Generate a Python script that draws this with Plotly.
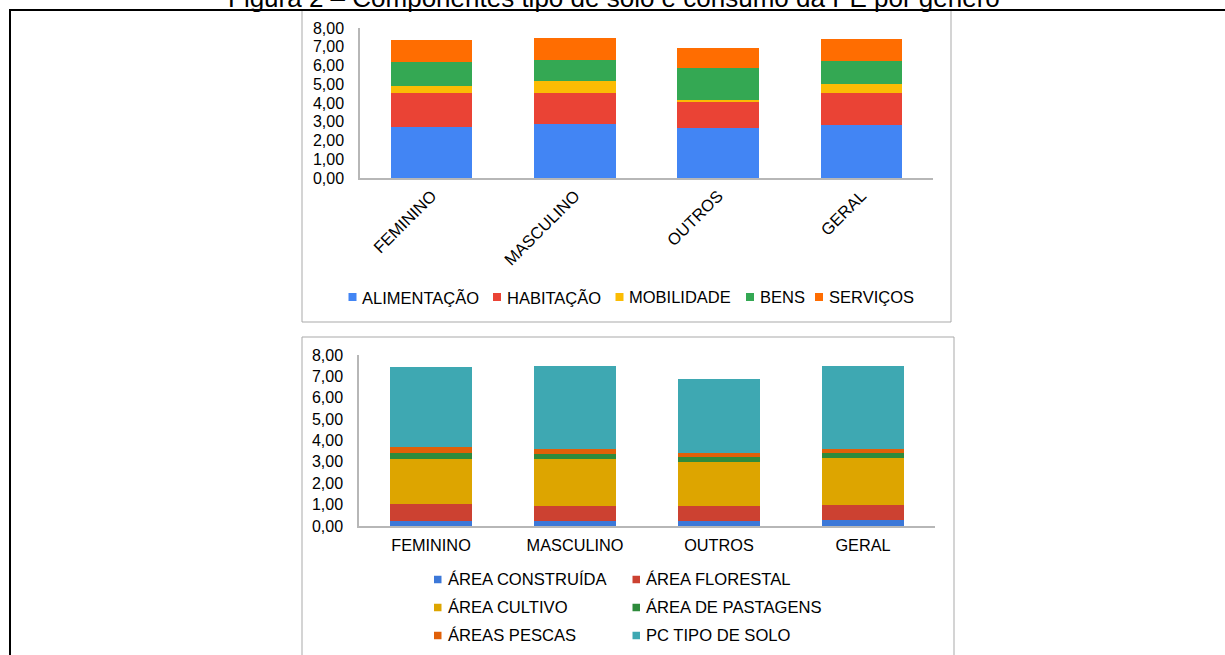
import plotly.graph_objects as go

# ---------------- data ----------------
categorias = ["FEMININO", "MASCULINO", "OUTROS", "GERAL"]

# top chart: components of consumption
alimentacao = [2.74, 2.86, 2.68, 2.81]
habitacao = [1.78, 1.69, 1.39, 1.71]
mobilidade = [0.40, 0.61, 0.11, 0.51]
bens = [1.27, 1.15, 1.70, 1.19]
servicos = [1.17, 1.17, 1.07, 1.21]

# bottom chart: land-type components
area_construida = [0.25, 0.25, 0.22, 0.27]
area_florestal = [0.78, 0.70, 0.70, 0.73]
area_cultivo = [2.12, 2.20, 2.07, 2.16]
area_pastagens = [0.25, 0.20, 0.22, 0.25]
areas_pescas = [0.28, 0.23, 0.19, 0.21]
pc_tipo_solo = [3.75, 3.90, 3.49, 3.86]

titulo = "Figura 2 – Componentes tipo de solo e consumo da PE por gênero"

# ---------------- geometry helpers ----------------
W, H = 1225, 655
L, R, T, B = 300, 270, 28, 129
GW, GH = W - L - R, H - T - B


def px(x):
    return (x - L) / GW


def py(y):
    return (H - B - y) / GH


FONT = "Arial, 'Liberation Sans', sans-serif"

fig = go.Figure()

# (name, values, colour, legend text-start x, legend text-centre y)
top_series = [
    ("ALIMENTAÇÃO", alimentacao, "#4285F4", 361, 297),
    ("HABITAÇÃO", habitacao, "#EA4335", 505.5, 297),
    ("MOBILIDADE", mobilidade, "#FBBC04", 628, 297),
    ("BENS", bens, "#34A853", 758.5, 297),
    ("SERVIÇOS", servicos, "#FF6D01", 827.5, 297),
]
bottom_series = [
    ("ÁREA CONSTRUÍDA", area_construida, "#3C78D8", 446.5, 579.5),
    ("ÁREA FLORESTAL", area_florestal, "#CC4131", 645, 579.5),
    ("ÁREA CULTIVO", area_cultivo, "#DDA500", 446.5, 607.5),
    ("ÁREA DE PASTAGENS", area_pastagens, "#2E8B3C", 645, 607.5),
    ("ÁREAS PESCAS", areas_pescas, "#E06008", 446.5, 635.5),
    ("PC TIPO DE SOLO", pc_tipo_solo, "#3EA8B2", 645, 635.5),
]

for series, xa, ya, fsize, msize in ((top_series, "x", "y", 16.5, 8),
                                     (bottom_series, "x2", "y2", 16.6, 7.5)):
    for name, vals, col, lx, ly in series:
        fig.add_trace(go.Bar(x=categorias, y=vals, name=name,
                             marker_color=col, marker_line_width=0,
                             xaxis=xa, yaxis=ya, showlegend=False))
        # legend swatch + label
        fig.add_shape(type="rect", xref="paper", yref="paper",
                      x0=px(lx - 12.5), x1=px(lx - 12.5 + msize),
                      y0=py(ly + msize / 2), y1=py(ly - msize / 2),
                      fillcolor=col, line=dict(width=0))
        fig.add_annotation(text=name, xref="paper", yref="paper",
                           x=px(lx - 1), y=py(ly), xanchor="left",
                           yanchor="middle", showarrow=False,
                           font=dict(size=fsize, family=FONT,
                                     color="#000000"))

axis_line = dict(showline=True, linecolor="#b7b7b7", linewidth=1.5,
                 showgrid=False, zeroline=False, ticks="")

fig.update_layout(
    width=W, height=H,
    margin=dict(l=L, r=R, t=T, b=B, autoexpand=False),
    barmode="stack", bargap=0.43,
    separators=",.",
    paper_bgcolor="white", plot_bgcolor="white",
    font=dict(family=FONT, color="#000000"),
    xaxis=dict(domain=[px(360), px(933)], anchor="y", tickangle=-45,
               tickfont=dict(size=16.5), **axis_line),
    yaxis=dict(domain=[py(178), py(28)], anchor="x", range=[0, 8], dtick=1,
               tickformat=".2f", tickfont=dict(size=16),
               ticklabelstandoff=11, **axis_line),
    xaxis2=dict(domain=[px(359), px(935)], anchor="y2", tickangle=0,
                tickfont=dict(size=16.3), ticklabelstandoff=4, **axis_line),
    yaxis2=dict(domain=[0, py(355)], anchor="x2", range=[0, 8], dtick=1,
                tickformat=".2f", tickfont=dict(size=16),
                ticklabelstandoff=11, **axis_line),
    showlegend=False,
)

# chart frames (gray) and table borders (black)
frame = dict(type="rect", xref="paper", yref="paper", layer="below",
             line=dict(color="#a9a9a9", width=1), fillcolor="rgba(0,0,0,0)")
fig.add_shape(x0=px(302), x1=px(951), y0=py(322), y1=py(10), **frame)
fig.add_shape(x0=px(302), x1=px(954), y0=py(670), y1=py(337), **frame)
black = dict(type="line", xref="paper", yref="paper",
             line=dict(color="#000000", width=2))
fig.add_shape(x0=px(9), x1=px(1230), y0=py(10), y1=py(10), **black)
fig.add_shape(x0=px(10), x1=px(10), y0=py(10), y1=py(670), **black)

fig.add_annotation(text=titulo, xref="paper", yref="paper", x=px(614),
                   y=py(15), xanchor="center", yanchor="bottom",
                   showarrow=False, font=dict(size=26, family=FONT))

fig.write_html("out.html")
